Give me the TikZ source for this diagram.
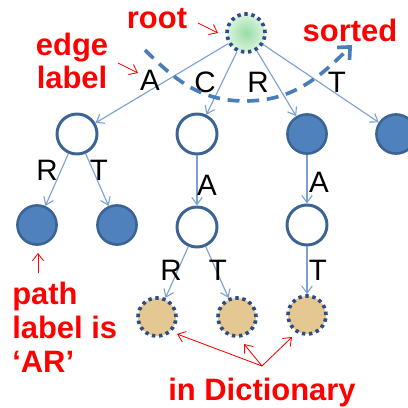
\documentclass[tikz,border=0pt]{standalone}
\usepackage{fontspec}
\setmainfont{Liberation Sans}
\usepackage{xcolor}
\usetikzlibrary{arrows.meta}
\definecolor{nodeline}{HTML}{3B6495}
\definecolor{nodefill}{HTML}{4F81BD}
\definecolor{edgeline}{HTML}{7AA1D3}
\definecolor{sortline}{HTML}{4A7EBB}
\definecolor{dotline}{HTML}{2E4C86}
\definecolor{rootin}{HTML}{98DCA6}
\definecolor{rootout}{HTML}{DAF4DE}
\definecolor{dictfill}{HTML}{E4C791}
\definecolor{notered}{HTML}{FF0000}
\tikzset{
  thollow/.style={circle,draw=nodeline,fill=white,line width=2.1pt,minimum size=1cm,inner sep=0pt},
  tfilled/.style={circle,draw=nodeline,fill=nodefill,line width=1.8pt,minimum size=0.98cm,inner sep=0pt},
  troot/.style={circle,draw=dotline,inner color=rootin,outer color=rootout,line width=2.6pt,dash pattern=on 2.4pt off 2.6pt,minimum size=0.95cm,inner sep=0pt},
  tdict/.style={circle,draw=dotline,fill=dictfill,line width=2.6pt,dash pattern=on 2.4pt off 2.6pt,minimum size=0.95cm,inner sep=0pt},
  tedge/.style={-{Straight Barb[length=1.8mm,width=2.6mm]},line width=0.8pt,draw=edgeline},
  tlabel/.style={font=\fontsize{21}{24}\selectfont,inner sep=0pt},
  tnote/.style={font=\fontsize{22}{24}\selectfont\bfseries,text=notered,inner sep=0pt},
  tnotearr/.style={-{Straight Barb[length=1.8mm,width=2.8mm]},line width=0.6pt,draw=notered},
  tsort/.style={-{Straight Barb[length=2.4mm,width=4.4mm]},line width=2.6pt,draw=sortline,dash pattern=on 8.5pt off 5.5pt}
}
\begin{document}
\begin{tikzpicture}[x=0.025cm,y=-0.025cm]
  \useasboundingbox (0,0) rectangle (408,408);
  % trie nodes
  \node[troot] (root) at (246,33) {};
  \node[thollow] (na) at (77,134) {};
  \node[thollow] (nc) at (197,134) {};
  \node[tfilled] (nr) at (307,134) {};
  \node[tfilled] (nt) at (396,134) {};
  \node[tfilled] (nar) at (37,225) {};
  \node[tfilled] (nat) at (117,225) {};
  \node[thollow] (nca) at (197,227) {};
  \node[thollow] (nra) at (307,225) {};
  \node[tdict] (ncar) at (157,317) {};
  \node[tdict] (ncat) at (237,317) {};
  \node[tdict] (nrat) at (307,315) {};
  % edges
  \draw[tedge] (root)--(na); \draw[tedge] (root)--(nc); \draw[tedge] (root)--(nr); \draw[tedge] (root)--(nt);
  \draw[tedge] (na)--(nar); \draw[tedge] (na)--(nat); \draw[tedge] (nc)--(nca); \draw[tedge] (nr)--(nra);
  \draw[tedge] (nca)--(ncar); \draw[tedge] (nca)--(ncat); \draw[tedge] (nra)--(nrat);
  % edge labels
  \node[tlabel] (la) at (150,80) {A};
  \node[tlabel] (lc) at (205,82) {C};
  \node[tlabel] (lr) at (258,82) {R};
  \node[tlabel] (lt) at (337,82) {T};
  \node[tlabel] (lar) at (47,170) {R};
  \node[tlabel] (lat) at (99,170) {T};
  \node[tlabel] (lca) at (207,185) {A};
  \node[tlabel] (lra) at (319,182) {A};
  \node[tlabel] (lcar) at (171,270) {R};
  \node[tlabel] (lcat) at (218,270) {T};
  \node[tlabel] (lrat) at (318,270) {T};
  % sorted order
  \coordinate (sa) at (145,50); \coordinate (sb) at (245,101); \coordinate (sc) at (352,45);
  \draw[tsort] (sa) to[out=-45,in=180] (sb) to[out=0,in=-135] (sc);
  % notes
  \node[tnote] (rootnote) at (157,19) {root};
  \node[tnote,align=center] (edgenote) at (72,61) {edge\\label};
  \node[tnote] (sortnote) at (350,30) {sorted};
  \node[tnote,align=left,anchor=north west] (pathnote) at (12,282) {path\\label is\\‘AR’};
  \node[tnote] (dictnote) at (262,392) {in Dictionary};
  \coordinate (ra) at (198,23); \coordinate (rb) at (218,33);
  \coordinate (ea) at (118,63); \coordinate (eb) at (138,73);
  \coordinate (pa) at (38,273); \coordinate (pb) at (38,253);
  \coordinate (da) at (262,366); \coordinate (d1) at (177,334); \coordinate (d2) at (244,344); \coordinate (d3) at (292,337);
  \draw[tnotearr] (ra)--(rb); \draw[tnotearr] (ea)--(eb); \draw[tnotearr] (pa)--(pb);
  \draw[tnotearr] (da)--(d1); \draw[tnotearr] (da)--(d2); \draw[tnotearr] (da)--(d3);
\end{tikzpicture}
\end{document}
